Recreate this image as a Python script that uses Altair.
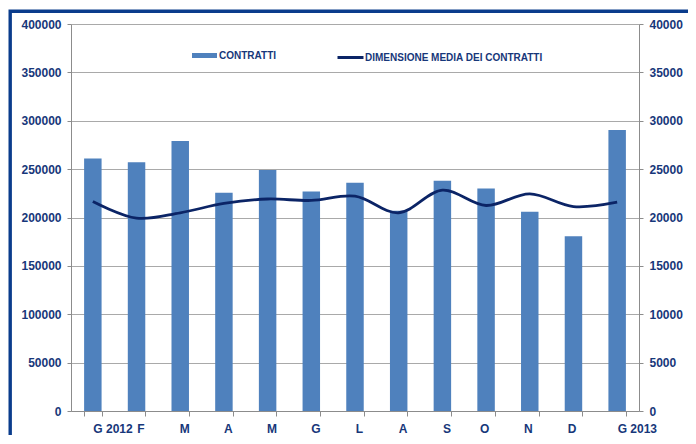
import json
import altair as alt
import pandas as pd

months = ["G 2012", "F", "M", "A", "M", "G", "L", "A", "S", "O", "N", "D", "G 2013"]
contratti = [261000, 257000, 279000, 225500, 249000, 227000, 236000, 207000,
             238000, 230000, 206000, 180500, 290500]
dimensione = [21650, 19930, 20490, 21450, 21910, 21760, 22200, 20490,
              22820, 21240, 22450, 21130, 21580]
left_ticks = list(range(0, 400001, 50000))
right_ticks = list(range(0, 40001, 5000))

df = pd.DataFrame({
    "idx": list(range(len(months))),
    "contratti": contratti,
    "dimensione": dimensione,
    "s1": "CONTRATTI",
    "s2": "DIMENSIONE MEDIA DEI CONTRATTI",
})

FONT = "Liberation Sans"
TXT = "#17377A"
GRID = "#A9A9A9"
AXC = "#8C8C8C"
BAR = "#4F81BD"
LINE = "#0B2466"

label_expr = json.dumps(months) + "[datum.value]"


def xenc(**kw):
    return alt.X(
        "idx:O", title=None,
        scale=alt.Scale(paddingInner=0.6, paddingOuter=0.3),
        axis=alt.Axis(
            labelExpr=label_expr, labelAngle=0, tickBand="extent",
            labelAlign={"condition": {"test": "datum.value == 0 || datum.value == 12", "value": "left"},
                        "value": "center"},
            labelOffset={"condition": [
                {"test": "datum.value >= 1 && datum.value <= 8", "value": 4},
                {"test": "datum.value >= 9 && datum.value <= 11", "value": -2},
            ], "value": 0},
            labelFont=FONT, labelFontSize=12, labelFontWeight="bold", labelColor=TXT,
            labelPadding=7, tickSize=5, tickColor=AXC, domainColor=AXC, grid=False,
        ),
        **kw,
    )


bars = alt.Chart(df).mark_bar().encode(
    x=xenc(),
    y=alt.Y("contratti:Q", title=None,
            scale=alt.Scale(domain=[0, 400000], nice=False),
            axis=alt.Axis(values=left_ticks, format="d", orient="left", grid=True,
                          gridColor=GRID, tickColor=AXC, domainColor=AXC, tickSize=4,
                          labelPadding=6, labelFont=FONT, labelFontSize=12,
                          labelFontWeight="bold", labelColor=TXT)),
    color=alt.Color("s1:N", scale=alt.Scale(range=[BAR]),
                    legend=alt.Legend(title=None, orient="none", legendX=121, legendY=19,
                                      symbolType="M-1,-0.2H1V0.2H-1Z", symbolSize=625,
                                      symbolStrokeWidth=0, labelFont=FONT, labelFontSize=10,
                                      labelFontWeight="bold", labelColor=TXT, labelOffset=2,
                                      labelLimit=400, padding=0)),
)

line = alt.Chart(df).mark_line(interpolate="catmull-rom", strokeWidth=2.8).encode(
    x=xenc(bandPosition=0.5),
    y=alt.Y("dimensione:Q", title=None,
            scale=alt.Scale(domain=[0, 40000], nice=False),
            axis=alt.Axis(values=right_ticks, format="d", orient="right", grid=False,
                          tickColor=AXC, domainColor=AXC, tickSize=4,
                          labelPadding=6, labelFont=FONT, labelFontSize=12,
                          labelFontWeight="bold", labelColor=TXT)),
    stroke=alt.Stroke("s2:N", scale=alt.Scale(range=[LINE]),
                      legend=alt.Legend(title=None, orient="none", legendX=265, legendY=19,
                                        symbolType="stroke", symbolSize=676,
                                        symbolStrokeWidth=3, labelFont=FONT, labelFontSize=10,
                                        labelFontWeight="bold", labelColor=TXT, labelOffset=0,
                                        labelLimit=400, padding=0)),
)

border = alt.Chart(alt.Data(values=[{"a": 1}])).mark_rect(
    filled=False, stroke="#0A3C8C", strokeWidth=3.4
).encode(
    x=alt.value(-60.8), x2=alt.value(700), y=alt.value(-12.8), y2=alt.value(500)
)

chart = alt.layer(bars, line, border).resolve_scale(
    y="independent"
).properties(
    width=568, height=387,
    padding={"left": 63, "top": 16, "right": 49, "bottom": 24},
    autosize=alt.AutoSizeParams(type="none"),
    background="white",
).configure_view(stroke=None)

chart.save("out.html", embed_options={"renderer": "svg", "actions": False})
